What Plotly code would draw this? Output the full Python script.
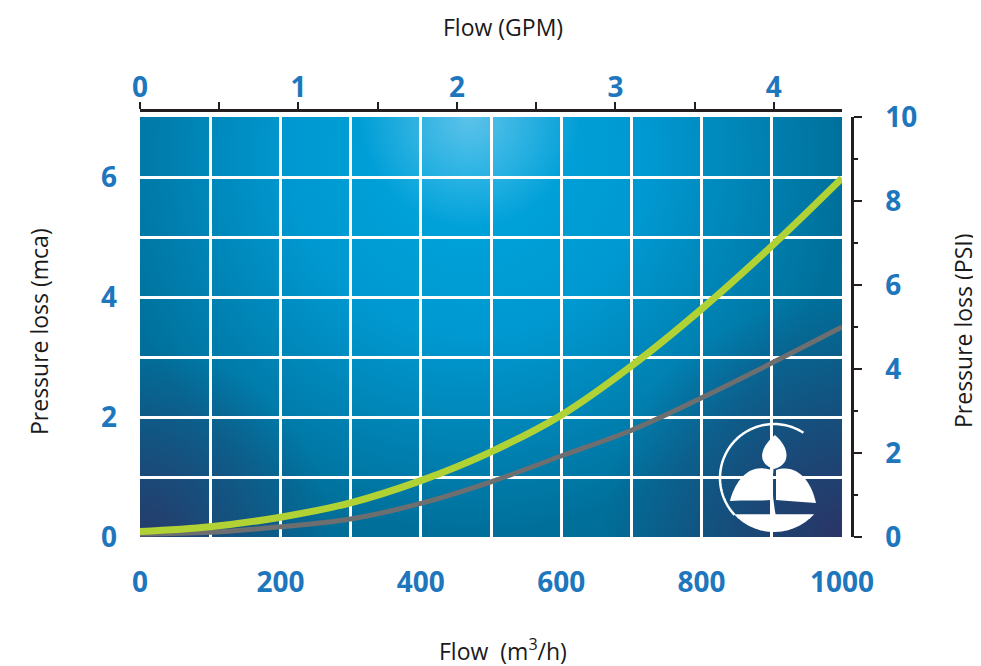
import base64
import math
import plotly.graph_objects as go

# ---------------- data ----------------
flow = [0, 100, 200, 300, 400, 500, 600, 700, 800, 900, 1000]
loss_green = [0.09, 0.17, 0.33, 0.57, 0.94, 1.42, 2.03, 2.85, 3.80, 4.85, 5.98]
loss_gray = [0.05, 0.08, 0.17, 0.30, 0.56, 0.92, 1.35, 1.78, 2.32, 2.90, 3.50]

x_ticks = [0, 200, 400, 600, 800, 1000]
y_ticks = [0, 2, 4, 6]
gpm_ticks = [0, 1, 2, 3, 4]
psi_ticks = [0, 2, 4, 6, 8, 10]

x_range = [0, 1000]
y_range = [0, 7]
gpm_range = [0, 4.43]
psi_range = [0, 10]

# ---------------- style ----------------
OFF = 8  # page body margin of the html page
W, H = 973, 658
ML, MR, MT, MB = 132, 129, 102, 129
BLUE = "#1e76bd"
DARK = "#231f20"
FONT = "Open Sans"
tickfont = dict(family=FONT, size=28, color=BLUE, weight="bold")
titlefont = dict(family=FONT, size=23, color="#1a1a1a")

pw = W - ML - MR
ph = H - MT - MB
PLOT_W, PLOT_H = 702, 420
xdom = [0, PLOT_W / pw]
ydom = [0, PLOT_H / ph]


def paper(xp, yp):
    """page pixel -> paper coordinates"""
    return (xp - OFF - ML) / pw, (H - MB - (yp - OFF)) / ph


# background gradient as an SVG image
bw, bh = PLOT_W, PLOT_H
svg = f"""<svg xmlns='http://www.w3.org/2000/svg' width='{bw}' height='{bh}' viewBox='0 0 {bw} {bh}' preserveAspectRatio='none'>
<defs>
<radialGradient id='a' cx='330' cy='40' r='520' gradientUnits='userSpaceOnUse'>
<stop offset='0' stop-color='#00a7df'/>
<stop offset='0.35' stop-color='#0098d0'/>
<stop offset='0.72' stop-color='#00709b'/>
<stop offset='1' stop-color='#00628c'/>
</radialGradient>
<radialGradient id='b' cx='0' cy='{bh}' r='190' gradientUnits='userSpaceOnUse'>
<stop offset='0' stop-color='#273b6b' stop-opacity='1'/>
<stop offset='1' stop-color='#273b6b' stop-opacity='0'/>
</radialGradient>
<radialGradient id='c' cx='{bw}' cy='{bh}' r='240' gradientUnits='userSpaceOnUse'>
<stop offset='0' stop-color='#2a3566' stop-opacity='1'/>
<stop offset='1' stop-color='#2a3566' stop-opacity='0'/>
</radialGradient>
<radialGradient id='d' cx='330' cy='0' r='110' gradientUnits='userSpaceOnUse'>
<stop offset='0' stop-color='#9ad6f2' stop-opacity='0.6'/>
<stop offset='1' stop-color='#9ad6f2' stop-opacity='0'/>
</radialGradient>
</defs>
<rect width='{bw}' height='{bh}' fill='url(#a)'/>
<rect width='{bw}' height='{bh}' fill='url(#b)'/>
<rect width='{bw}' height='{bh}' fill='url(#c)'/>
<rect width='{bw}' height='{bh}' fill='url(#d)'/>
</svg>"""
bg_uri = "data:image/svg+xml;base64," + base64.b64encode(svg.encode()).decode()

fig = go.Figure()
fig.add_trace(go.Scatter(x=flow, y=loss_gray, mode="lines",
                         line=dict(color="#6d6e70", width=5, shape="spline"),
                         hoverinfo="skip"))
fig.add_trace(go.Scatter(x=flow, y=loss_green, mode="lines",
                         line=dict(color="#b1d235", width=7, shape="spline"),
                         hoverinfo="skip"))
# secondary axes holder
fig.add_trace(go.Scatter(x=[], y=[], xaxis="x2", yaxis="y2", showlegend=False,
                         hoverinfo="skip"))

# ---------------- logo shapes (page pixel positions) ----------------
cx, cy, r = 774, 478, 54


def ppath(points, close=False):
    parts = []
    for i, (xp, yp) in enumerate(points):
        X, Y = paper(xp, yp)
        parts.append(("M" if i == 0 else "L") + f"{X:.5f},{Y:.5f}")
    return " ".join(parts) + (" Z" if close else "")


def cpath(cmds):
    out = []
    for c, pts in cmds:
        s = c + " ".join(f"{paper(a, b)[0]:.5f},{paper(a, b)[1]:.5f}" for a, b in pts)
        out.append(s)
    return " ".join(out)


arc_pts = [(cx + r * math.cos(math.radians(a)), cy - r * math.sin(math.radians(a)))
           for a in range(57, 224, 2)]
seg_pts = [(cx + r * math.cos(math.radians(a)), cy - r * math.sin(math.radians(a)))
           for a in range(222, 320, 2)]

shapes = [
    dict(type="path", xref="paper", yref="paper", path=ppath(arc_pts),
         line=dict(color="white", width=2.5), layer="above"),
    dict(type="path", xref="paper", yref="paper", path=ppath(seg_pts, close=True),
         fillcolor="white", line=dict(width=0), layer="above"),
    # top petal
    dict(type="path", xref="paper", yref="paper",
         path=cpath([("M", [(775, 435)]), ("C", [(789, 447), (792, 464), (774, 469)]),
                     ("C", [(757, 464), (759, 448), (775, 435)]), ("Z", [])]),
         fillcolor="white", line=dict(width=0), layer="above"),
    # left petal
    dict(type="path", xref="paper", yref="paper",
         path=cpath([("M", [(771, 470)]), ("C", [(748, 462), (735, 482), (730, 501)]),
                     ("C", [(745, 500), (760, 501), (771, 500)]), ("Z", [])]),
         fillcolor="white", line=dict(width=0), layer="above"),
    # right petal
    dict(type="path", xref="paper", yref="paper",
         path=cpath([("M", [(776, 470)]), ("C", [(799, 463), (812, 484), (816, 503)]),
                     ("C", [(802, 502), (788, 501), (776, 500)]), ("Z", [])]),
         fillcolor="white", line=dict(width=0), layer="above"),
    # stem
    dict(type="path", xref="paper", yref="paper",
         path=cpath([("M", [(772, 466)]), ("Q", [(769, 492), (774, 515)])]),
         line=dict(color="white", width=3.5), layer="above"),
]

# ---------------- annotations (titles) ----------------
ann = []
for text, xp, yp, ang in [
    ("Flow (GPM)", 503, 27, 0),
    ("Flow  (m<sup>3</sup>/h)", 503, 650, 0),
    ("Pressure loss (mca)", 39, 331, -90),
    ("Pressure loss (PSI)", 963, 331, -90),
]:
    X, Y = paper(xp, yp)
    ann.append(dict(text=text, x=X, y=Y, xref="paper", yref="paper",
                    showarrow=False, textangle=ang, font=titlefont,
                    xanchor="center", yanchor="middle"))

fig.update_layout(
    width=W, height=H,
    margin=dict(l=ML, r=MR, t=MT, b=MB, pad=0),
    paper_bgcolor="white", plot_bgcolor="#0086b8",
    showlegend=False,
    xaxis=dict(domain=xdom, range=x_range, tickvals=x_ticks, showgrid=True,
               gridcolor="white", gridwidth=3, zeroline=False, showline=False,
               ticks="", tickfont=tickfont, ticklabelstandoff=26,
               minor=dict(dtick=100, tick0=0, showgrid=True, gridcolor="white", gridwidth=3),
               fixedrange=True),
    yaxis=dict(domain=ydom, range=y_range, tickvals=y_ticks, showgrid=True,
               gridcolor="white", gridwidth=3, zeroline=False, showline=False,
               ticks="", tickfont=tickfont, ticklabelstandoff=22,
               minor=dict(dtick=1, tick0=0, showgrid=True, gridcolor="white", gridwidth=3),
               fixedrange=True),
    xaxis2=dict(overlaying="x", side="top", anchor="free", position=1,
                range=gpm_range, tickvals=gpm_ticks, showgrid=False, zeroline=False,
                showline=True, linecolor=DARK, linewidth=2.5,
                ticks="outside", ticklen=7, tickwidth=2, tickcolor=DARK,
                minor=dict(dtick=0.5, tick0=0, ticks="outside", ticklen=7,
                           tickwidth=2, tickcolor=DARK, showgrid=False),
                tickfont=tickfont, ticklabelstandoff=-6, fixedrange=True),
    yaxis2=dict(overlaying="y", side="right", anchor="free", position=1,
                range=psi_range, tickvals=psi_ticks, showgrid=False, zeroline=False,
                showline=True, linecolor=DARK, linewidth=2.5,
                ticks="outside", ticklen=8, tickwidth=2, tickcolor=DARK,
                minor=dict(dtick=1, tick0=0, ticks="outside", ticklen=4,
                           tickwidth=2, tickcolor=DARK, showgrid=False),
                tickfont=tickfont, ticklabelstandoff=18, fixedrange=True),
    images=[dict(source=bg_uri, xref="x", yref="y", x=x_range[0], y=y_range[1],
                 sizex=x_range[1] - x_range[0], sizey=y_range[1] - y_range[0],
                 sizing="stretch", xanchor="left", yanchor="top", layer="below")],
    shapes=shapes,
    annotations=ann,
)

fig.write_html("out.html")
